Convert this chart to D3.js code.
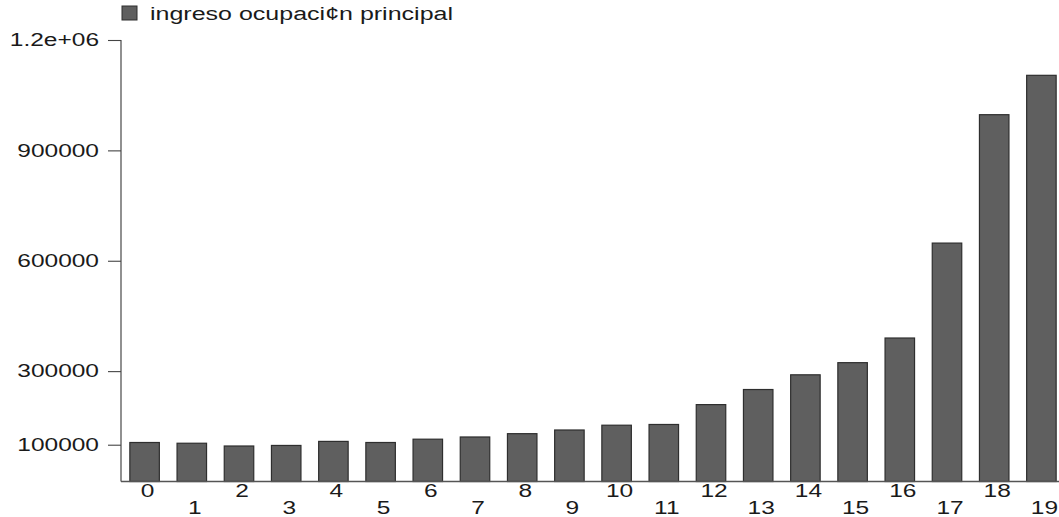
<!DOCTYPE html>
<html>
<head>
<meta charset="utf-8">
<script src="https://cdn.jsdelivr.net/npm/d3@7/dist/d3.min.js"></script>
<style>
  html, body { margin: 0; padding: 0; background: #fff; }
  svg { display: block; }
  text { font-family: "Liberation Sans", Arial, sans-serif; fill: #1a1a1a; }
</style>
</head>
<body>
<svg id="chart" width="1059" height="517"></svg>
<script>
// Categories (groups 0..19) and mean income of the main occupation
const categories = d3.range(20).map(String);
const ingreso = [106000, 104000, 96500, 98000, 109000, 106000, 115000, 121000, 130000, 140000,
                 153000, 155000, 209000, 250000, 290000, 323000, 390000, 648000, 997000, 1104000];
const yTicks = [100000, 300000, 600000, 900000, 1200000];
const yTickLabels = ["100000", "300000", "600000", "900000", "1.2e+06"];
const legendLabel = "ingreso ocupaci\u00a2n principal";

const svg = d3.select("#chart");
const fontSize = 18;
const stretch = 1.36;   // wide lettering of the axis labels

const x = d3.scaleBand()
  .domain(categories)
  .range([121, 1065])
  .paddingInner(0.375)
  .paddingOuter(0.1875);

const y = d3.scaleLinear()
  .domain([0, 1200000])
  .range([481.5, 40]);

// widen text horizontally by a fixed factor
function widen(sel, f) {
  sel.each(function () {
    const len = this.getComputedTextLength();
    d3.select(this).attr("textLength", len * f).attr("lengthAdjust", "spacingAndGlyphs");
  });
}

// bars
svg.append("g")
  .selectAll("rect")
  .data(ingreso)
  .join("rect")
  .attr("x", (d, i) => x(categories[i]))
  .attr("y", d => y(d))
  .attr("width", x.bandwidth())
  .attr("height", d => y(0) - y(d))
  .attr("fill", "#5f5f5f")
  .attr("stroke", "#2e2e2e")
  .attr("stroke-width", 1.2);

// y axis
const yAxis = svg.append("g")
  .attr("transform", "translate(121,0)")
  .call(d3.axisLeft(y)
    .tickValues(yTicks)
    .tickFormat((d, i) => yTickLabels[i])
    .tickSize(13)
    .tickPadding(9)
    .tickSizeOuter(0));
yAxis.select(".domain").attr("stroke", "#555").attr("stroke-width", 1.3)
  .attr("d", `M0,${y(1200000)}V${y(0)}`);
yAxis.selectAll(".tick line").attr("stroke", "#444").attr("stroke-width", 1.1);
yAxis.selectAll(".tick text")
  .attr("font-size", fontSize)
  .attr("font-family", "Liberation Sans, Arial, sans-serif")
  .attr("fill", "#1a1a1a")
  .call(widen, stretch);

// x axis line across the plot
svg.append("line")
  .attr("x1", 121).attr("x2", 1059)
  .attr("y1", y(0)).attr("y2", y(0))
  .attr("stroke", "#555").attr("stroke-width", 1.3);

// x labels, alternating between two rows
const xAxis = svg.append("g")
  .attr("transform", `translate(3,${y(0)})`)
  .call(d3.axisBottom(x).tickSize(0).tickPadding(0));
xAxis.select(".domain").remove();
xAxis.selectAll(".tick text")
  .attr("font-size", fontSize)
  .attr("font-family", "Liberation Sans, Arial, sans-serif")
  .attr("fill", "#1a1a1a")
  .attr("dy", null)
  .attr("y", (d, i) => (i % 2 === 0 ? 15 : 32))
  .call(widen, stretch);

// legend
const legend = svg.append("g");
legend.append("rect")
  .attr("x", 122).attr("y", 6)
  .attr("width", 15).attr("height", 14)
  .attr("fill", "#5f5f5f").attr("stroke", "#2e2e2e").attr("stroke-width", 1);
legend.append("text")
  .attr("x", 150).attr("y", 20)
  .attr("font-size", fontSize)
  .attr("textLength", 303)
  .attr("lengthAdjust", "spacingAndGlyphs")
  .text(legendLabel);
</script>
</body>
</html>
